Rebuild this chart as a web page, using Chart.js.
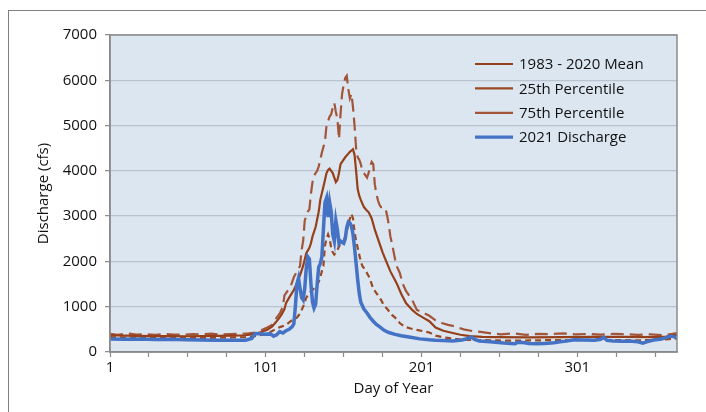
<!DOCTYPE html>
<html>
<head>
<meta charset="utf-8">
<script src="https://cdn.jsdelivr.net/npm/chart.js@4/dist/chart.umd.min.js"></script>
<style>
  html, body { margin: 0; padding: 0; background: #ffffff; }
  #wrap { position: relative; width: 706px; height: 412px; overflow: hidden; }
  #frame { position: absolute; left: 8px; top: 10px; width: 720px; height: 420px;
           border-left: 1px solid #808080; border-top: 1px solid #808080; }
  #c { position: absolute; left: 0; top: 0; }
</style>
</head>
<body>
<div id="wrap">
  <div id="frame"></div>
  <canvas id="c" width="706" height="412"></canvas>
</div>
<script>
// Daily discharge (cfs) by day of year

// 1983 - 2020 mean
const meanDays = [1, 10, 20, 30, 40, 50, 60, 70, 80, 88, 92, 95, 98, 102, 105, 107, 109, 111, 113, 114, 116, 119, 121, 123, 125, 127, 129, 130, 131, 133, 135, 136, 138, 139, 140, 141, 142, 143, 144, 145, 146, 147, 148, 149, 150, 152, 154, 155, 156, 157, 158, 159, 160, 161, 162, 164, 166, 167, 169, 171, 174, 176, 178, 181, 185, 188, 191, 195, 198, 202, 206, 210, 215, 221, 226, 232, 240, 250, 270, 290, 310, 330, 350, 358, 362, 365];
const meanCfs = [370, 360, 355, 350, 352, 348, 350, 355, 360, 370, 390, 410, 440, 490, 560, 640, 720, 820, 950, 1080, 1200, 1370, 1520, 1700, 1900, 2180, 2300, 2400, 2550, 2760, 3100, 3360, 3650, 3800, 3950, 4020, 4050, 4000, 3950, 3850, 3750, 3800, 3950, 4150, 4200, 4300, 4380, 4420, 4450, 4480, 4350, 4000, 3600, 3450, 3360, 3200, 3120, 3090, 2950, 2700, 2400, 2200, 2030, 1780, 1520, 1280, 1080, 930, 840, 760, 680, 540, 470, 420, 380, 350, 335, 330, 325, 330, 335, 335, 330, 340, 370, 380];

// 25th percentile
const p25Days = [1, 10, 20, 30, 40, 50, 60, 70, 80, 88, 92, 96, 100, 104, 108, 111, 114, 117, 121, 123, 125, 127, 129, 132, 134, 135, 136, 137, 138, 139, 140, 141, 142, 143, 144, 145, 146, 147, 149, 151, 152, 154, 155, 156, 157, 158, 159, 160, 161, 162, 163, 165, 167, 168, 170, 172, 175, 177, 179, 182, 184, 187, 190, 194, 198, 202, 206, 210, 214, 220, 228, 240, 250, 260, 270, 280, 290, 300, 310, 320, 330, 340, 350, 358, 365];
const p25Cfs = [330, 320, 325, 315, 320, 315, 310, 315, 320, 330, 340, 360, 390, 440, 520, 560, 600, 680, 760, 850, 1000, 1200, 1300, 1400, 1480, 1550, 1650, 1780, 1900, 2350, 2500, 2600, 2500, 2300, 2200, 2150, 2200, 2250, 2400, 2450, 2550, 2800, 2950, 3050, 2950, 2650, 2450, 2300, 2150, 2000, 1900, 1800, 1680, 1600, 1400, 1300, 1150, 1020, 950, 820, 760, 640, 560, 520, 490, 460, 430, 360, 330, 300, 265, 265, 255, 250, 255, 260, 262, 265, 270, 265, 262, 258, 265, 280, 300];

// 75th percentile
const p75Days = [1, 6, 12, 18, 24, 30, 36, 42, 48, 54, 60, 66, 72, 78, 84, 90, 94, 98, 102, 105, 108, 110, 112, 113, 115, 117, 119, 121, 123, 124, 125, 126, 127, 128, 129, 130, 131, 132, 134, 135, 137, 139, 140, 141, 142, 143, 144, 145, 146, 147, 148, 149, 150, 151, 152, 153, 154, 155, 156, 157, 158, 159, 160, 161, 162, 163, 164, 165, 166, 167, 168, 169, 170, 171, 172, 173, 174, 175, 177, 178, 179, 180, 181, 182, 184, 185, 187, 189, 191, 193, 195, 198, 202, 206, 210, 214, 218, 223, 228, 234, 240, 246, 252, 260, 268, 276, 284, 292, 300, 308, 316, 324, 332, 340, 348, 356, 362, 365];
const p75Cfs = [400, 380, 410, 385, 395, 380, 400, 385, 380, 395, 390, 405, 385, 395, 400, 410, 430, 480, 540, 600, 760, 850, 1000, 1250, 1350, 1450, 1650, 1780, 1900, 2250, 2450, 2900, 3000, 3100, 3150, 3500, 3750, 3900, 4000, 4100, 4400, 4650, 5000, 5100, 5200, 5250, 5400, 5500, 5300, 5150, 4700, 5250, 5700, 5900, 6050, 6100, 5800, 5600, 5700, 5400, 5000, 4500, 4300, 4250, 4150, 4000, 3950, 3900, 3850, 3950, 4100, 4200, 4150, 3700, 3500, 3350, 3250, 3200, 3200, 3150, 3000, 2800, 2550, 2400, 2050, 1900, 1750, 1500, 1350, 1250, 1150, 930, 870, 800, 700, 640, 600, 560, 500, 460, 440, 410, 390, 410, 380, 400, 395, 410, 390, 400, 385, 400, 395, 380, 390, 370, 400, 420];

// 2021 discharge
const flowDays = [1, 10, 20, 30, 40, 50, 60, 70, 80, 88, 92, 94, 96, 100, 104, 106, 108, 110, 112, 114, 116, 118, 119, 120, 121, 122, 123, 124, 125, 126, 127, 128, 129, 130, 131, 132, 133, 134, 135, 136, 137, 138, 139, 140, 141, 142, 143, 144, 145, 146, 147, 148, 149, 150, 151, 152, 153, 154, 155, 156, 157, 158, 159, 160, 161, 162, 164, 166, 168, 170, 172, 174, 177, 180, 184, 188, 193, 200, 206, 210, 215, 221, 227, 231, 233, 235, 238, 245, 252, 258, 261, 263, 266, 270, 275, 280, 286, 290, 294, 299, 305, 312, 316, 318, 320, 324, 330, 336, 340, 343, 346, 350, 355, 359, 361, 363, 365];
const flowCfs = [285, 280, 285, 278, 282, 272, 265, 262, 258, 262, 300, 400, 410, 390, 400, 350, 380, 450, 420, 470, 500, 560, 620, 1000, 1500, 1630, 1400, 1200, 1150, 1400, 1850, 2100, 2050, 1500, 1100, 970, 1050, 1500, 1880, 1950, 2100, 2700, 3300, 3400, 2980, 3310, 3100, 2600, 2450, 2900, 2700, 2400, 2450, 2420, 2400, 2500, 2750, 2870, 2850, 2780, 2600, 2300, 1950, 1600, 1300, 1100, 950, 860, 760, 680, 610, 560, 480, 430, 390, 360, 330, 290, 270, 260, 255, 243, 265, 300, 330, 280, 243, 225, 205, 185, 180, 215, 210, 190, 180, 190, 205, 225, 240, 270, 265, 260, 280, 320, 260, 245, 240, 235, 225, 195, 230, 265, 285, 330, 350, 340, 300];

// Axis ticks
const yTicks = [0, 1000, 2000, 3000, 4000, 5000, 6000, 7000];
const xTickDays = [1, 26, 51, 76, 101, 126, 151, 176, 201, 226, 251, 276, 301, 326, 351];
const xTickLabels = ['1', '101', '201', '301'];

const FONT = "'Open Sans', 'DejaVu Sans', sans-serif";
const FONT_SIZE = 15;
const BROWN = '#95401a';
const BROWN_25 = '#9a4923';
const BROWN_75 = '#a3553a';
const BLUE = '#4472c4';

const pairs = (xs, ys) => xs.map((d, i) => ({ x: d, y: ys[i] }));

const plotBackground = {
  id: 'plotBackground',
  beforeDraw(chart) {
    const { ctx, chartArea: a } = chart;
    ctx.save();
    ctx.fillStyle = '#dce6f1';
    ctx.fillRect(a.left, a.top, a.right - a.left, a.bottom - a.top);
    ctx.restore();
  },
  afterDraw(chart) {
    const { ctx, chartArea: a } = chart;
    ctx.save();
    ctx.strokeStyle = '#8a8a8a';
    ctx.lineWidth = 1.5;
    ctx.strokeRect(a.left, a.top, a.right - a.left, a.bottom - a.top);
    ctx.restore();
  }
};

// Legend drawn inside the plot area, upper right, with solid sample lines
const insideLegend = {
  id: 'insideLegend',
  afterDraw(chart) {
    const { ctx, chartArea: a } = chart;
    const x0 = a.right - 202;
    const y0 = a.top + 29;
    const row = 24.4;
    chart.data.datasets.forEach((ds, i) => {
      const y = y0 + i * row;
      ctx.save();
      ctx.setLineDash([]);
      ctx.strokeStyle = ds.borderColor;
      ctx.lineWidth = ds.legendWidth;
      ctx.beginPath();
      ctx.moveTo(x0, y);
      ctx.lineTo(x0 + 38, y);
      ctx.stroke();
      ctx.fillStyle = '#111111';
      ctx.font = FONT_SIZE + 'px ' + FONT;
      ctx.textBaseline = 'middle';
      ctx.fillText(ds.label, x0 + 44, y + 1);
      ctx.restore();
    });
  }
};

new Chart(document.getElementById('c'), {
  type: 'line',
  data: {
    datasets: [
      { label: '1983 - 2020 Mean', data: pairs(meanDays, meanCfs), borderColor: BROWN,
        borderWidth: 2.2, legendWidth: 2.2, order: 1 },
      { label: '25th Percentile', data: pairs(p25Days, p25Cfs), borderColor: BROWN_25,
        borderWidth: 2.2, legendWidth: 2.2, borderDash: [6, 4], order: 1 },
      { label: '75th Percentile', data: pairs(p75Days, p75Cfs), borderColor: BROWN_75,
        borderWidth: 2.2, legendWidth: 2.2, borderDash: [13, 6], order: 1 },
      { label: '2021 Discharge', data: pairs(flowDays, flowCfs), borderColor: BLUE,
        borderWidth: 3.5, legendWidth: 3.2, order: 0 }
    ]
  },
  options: {
    responsive: false,
    animation: false,
    elements: { point: { radius: 0, hoverRadius: 0 }, line: { tension: 0, fill: false, borderCapStyle: 'butt' } },
    layout: { padding: { left: 0, top: 35, right: 29, bottom: 0 } },
    plugins: { legend: { display: false }, tooltip: { enabled: false } },
    scales: {
      x: {
        type: 'linear',
        min: 1,
        max: 365,
        afterBuildTicks(scale) { scale.ticks = xTickDays.map(v => ({ value: v })); },
        afterFit(scale) { scale.height = 60; },
        grid: { drawOnChartArea: false, drawTicks: true, tickLength: 5, tickColor: '#8a8a8a', tickWidth: 1.2 },
        border: { color: '#8a8a8a', width: 1.5 },
        ticks: {
          autoSkip: false, maxRotation: 0, padding: 2, color: '#111111',
          font: { family: FONT, size: FONT_SIZE },
          callback(v) { return xTickLabels.includes(String(v)) ? String(v) : ''; }
        },
        title: { display: true, text: 'Day of Year', color: '#111111',
                 font: { family: FONT, size: FONT_SIZE }, padding: { top: 0, bottom: 14 } }
      },
      y: {
        min: 0,
        max: 7000,
        afterBuildTicks(scale) { scale.ticks = yTicks.map(v => ({ value: v })); },
        afterFit(scale) { scale.width = 110; },
        grid: { color: '#b8c2d0', lineWidth: 1.3, drawTicks: true, tickLength: 5, tickColor: '#8a8a8a', tickWidth: 1.2 },
        border: { color: '#8a8a8a', width: 1.5 },
        ticks: { padding: 8, color: '#111111', font: { family: FONT, size: FONT_SIZE },
                 callback(v) { return String(v); } },
        title: { display: true, text: 'Discharge (cfs)', color: '#111111',
                 font: { family: FONT, size: FONT_SIZE }, padding: { top: 35, bottom: 0 } }
      }
    }
  },
  plugins: [plotBackground, insideLegend]
});
</script>
</body>
</html>
